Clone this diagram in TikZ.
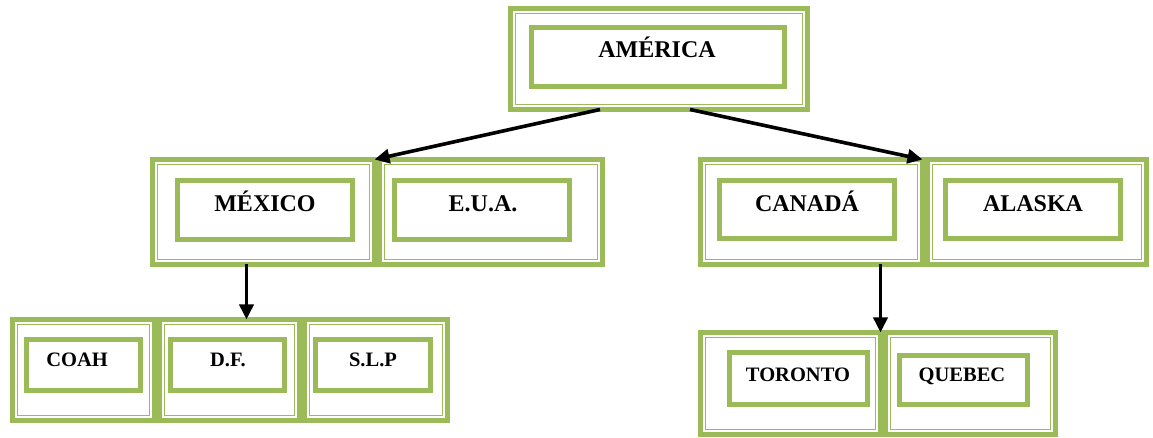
\documentclass[tikz,border=0pt]{standalone}
\usepackage{fontspec}
\setmainfont{Liberation Serif}
\usetikzlibrary{arrows.meta, positioning, calc}
\definecolor{olivegreen}{HTML}{9BBB59}
\definecolor{inkblack}{HTML}{000000}

\begin{document}
\begin{tikzpicture}[x=1pt, y=1pt]
    \tikzstyle{frame} = [rectangle, draw=olivegreen, line width=5pt, inner sep=0pt, outer sep=0pt]
    \tikzstyle{tag} = [rectangle, draw=olivegreen, line width=4.5pt, inner sep=0pt, outer sep=0pt]
    \tikzstyle{bigname} = [font=\fontsize{24}{28}\selectfont\bfseries, inner sep=0pt, anchor=base]
    \tikzstyle{smallname} = [font=\fontsize{20.5}{24}\selectfont\bfseries, inner sep=0pt, anchor=base]
    \tikzstyle{link} = [-{Triangle[length=15pt, width=14pt]}, line width=3.6pt, inkblack]

    \useasboundingbox (0,0) rectangle (1153,438);

    % outer cells
    \node (america) [frame, minimum width=297, minimum height=101] at (659,379) {};
    \node (mexico)  [frame, minimum width=222, minimum height=105] at (263.5,226) {};
    \node (eua)     [frame, minimum width=223, minimum height=105] at (491,226) {};
    \node (canada)  [frame, minimum width=222, minimum height=105] at (811.5,226) {};
    \node (alaska)  [frame, minimum width=219, minimum height=105] at (1037,226) {};
    \node (coah)    [frame, minimum width=142, minimum height=101] at (83.5,68) {};
    \node (df)      [frame, minimum width=140, minimum height=101] at (229.5,68) {};
    \node (slp)     [frame, minimum width=143, minimum height=101] at (376,68) {};
    \node (toronto) [frame, minimum width=180, minimum height=102] at (790.5,54.5) {};
    \node (quebec)  [frame, minimum width=170, minimum height=102] at (970.5,54.5) {};

    % thin inner rule of each cell
    \foreach \c in {america, mexico, eua, canada, alaska, coah, df, slp, toronto, quebec}
      \draw [olivegreen, line width=1.3pt]
        ([shift={(5,5)}]\c.south west) rectangle ([shift={(-5,-5)}]\c.north east);

    % inner boxes
    \node (americabox) [tag, minimum width=253, minimum height=59] at (658,381) {};
    \node (mexicobox)  [tag, minimum width=175, minimum height=59] at (265,228) {};
    \node (euabox)     [tag, minimum width=175, minimum height=59] at (482,228) {};
    \node (canadabox)  [tag, minimum width=175, minimum height=58] at (807,228.5) {};
    \node (alaskabox)  [tag, minimum width=175, minimum height=58] at (1033,228.5) {};
    \node (coahbox)    [tag, minimum width=114, minimum height=51] at (83.5,73) {};
    \node (dfbox)      [tag, minimum width=114, minimum height=51] at (227.5,73) {};
    \node (slpbox)     [tag, minimum width=115, minimum height=51] at (373,73) {};
    \node (torontobox) [tag, minimum width=138, minimum height=52] at (798.5,59.5) {};
    \node (quebecbox)  [tag, minimum width=128, minimum height=49] at (963.5,58) {};

    % names
    \node (americatext) [bigname] at (657,380) {AMÉRICA};
    \node (mexicotext)  [bigname] at (265,226) {MÉXICO};
    \node (euatext)     [bigname] at (483,226) {E.U.A.};
    \node (canadatext)  [bigname] at (807,226) {CANADÁ};
    \node (alaskatext)  [bigname] at (1033,226) {ALASKA};
    \node (coahtext)    [smallname] at (77,71) {COAH};
    \node (dftext)      [smallname] at (228,71) {D.F.};
    \node (slptext)     [smallname] at (373,71) {S.L.P};
    \node (torontotext) [smallname] at (798,56) {TORONTO};
    \node (quebectext)  [smallname] at (962,56) {QUEBEC};

    \draw [link] ([xshift=-59]america.south) -- (mexico.north east);
    \draw [link] ([xshift=31]america.south) -- (canada.north east);
    \draw [link] ([xshift=-17]mexico.south) -- ([xshift=-17]mexico.south |- df.north);
    \draw [link] (toronto.north east |- canada.south) -- (toronto.north east);
\end{tikzpicture}
\end{document}
